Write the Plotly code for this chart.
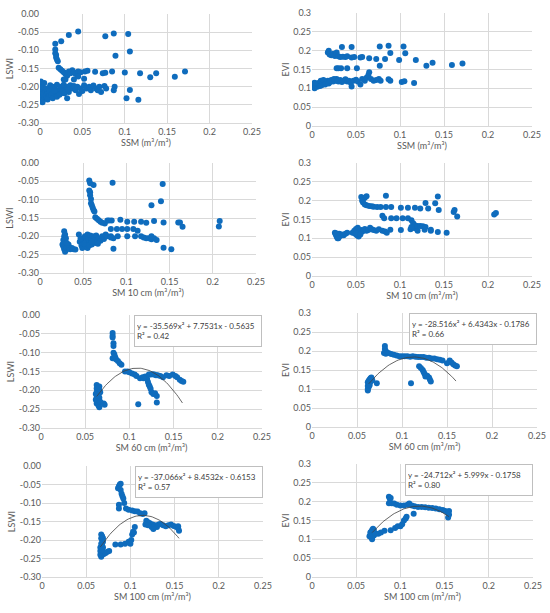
import numpy as np
import plotly.graph_objects as go

# ---- data (x, y) ----
ssm_lswi = [(0.001,-0.186),(0.001,-0.195),(0.002,-0.205),(0.001,-0.215),(0.002,-0.222),(0.001,-0.23),(0.002,-0.238),
            (0.003,-0.243),(0.004,-0.235),(0.005,-0.228),(0.004,-0.218),(0.006,-0.21),(0.007,-0.224),(0.008,-0.232),
            (0.009,-0.215),(0.01,-0.205),(0.011,-0.225),(0.012,-0.196),(0.013,-0.212),(0.014,-0.228),(0.015,-0.2),
            (0.016,-0.218),(0.018,-0.207),(0.019,-0.222),(0.02,-0.195),(0.022,-0.212),(0.024,-0.2),(0.025,-0.218),
            (0.027,-0.205),(0.028,-0.195),(0.03,-0.21),(0.032,-0.2),(0.034,-0.215),(0.036,-0.196),(0.038,-0.205),
            (0.04,-0.198),(0.042,-0.21),(0.044,-0.2),(0.046,-0.22),(0.048,-0.205),(0.05,-0.212),(0.052,-0.196),
            (0.055,-0.205),(0.058,-0.2),(0.06,-0.21),(0.063,-0.197),(0.066,-0.205),(0.068,-0.21),(0.07,-0.2),
            (0.072,-0.215),(0.076,-0.198),(0.078,-0.205),(0.003,-0.2),(0.005,-0.19),(0.007,-0.205),(0.009,-0.235),
            (0.011,-0.212),(0.013,-0.222),(0.015,-0.232),(0.017,-0.212),(0.02,-0.228),(0.023,-0.222),(0.026,-0.212),
            (0.029,-0.218),(0.033,-0.208),
            (0.018,-0.082),(0.018,-0.098),(0.018,-0.108),(0.019,-0.113),(0.019,-0.12),(0.02,-0.125),(0.021,-0.13),
            (0.022,-0.148),(0.024,-0.152),(0.026,-0.156),(0.028,-0.16),(0.03,-0.165),(0.032,-0.17),(0.034,-0.158),
            (0.036,-0.163),(0.038,-0.155),(0.04,-0.16),(0.042,-0.165),(0.045,-0.158),(0.048,-0.16),(0.053,-0.158),
            (0.056,-0.156),(0.065,-0.159),(0.074,-0.163),(0.077,-0.162),(0.085,-0.158),(0.028,-0.18),(0.03,-0.18),
            (0.04,-0.18),(0.052,-0.178),(0.045,-0.172),
            (0.025,-0.075),(0.034,-0.058),(0.045,-0.048),(0.077,-0.061),(0.087,-0.054),(0.104,-0.055),(0.106,-0.103),
            (0.089,-0.115),(0.1,-0.161),(0.118,-0.163),(0.13,-0.174),(0.137,-0.163),(0.159,-0.173),(0.171,-0.158),
            (0.102,-0.232),(0.116,-0.236),(0.106,-0.209),(0.032,-0.232),(0.088,-0.2),(0.087,-0.21)]

ssm_evi = [(0.001,0.112),(0.002,0.105),(0.003,0.1),(0.004,0.108),(0.005,0.112),(0.006,0.104),(0.007,0.11),(0.008,0.115),
           (0.009,0.106),(0.01,0.12),(0.012,0.112),(0.014,0.118),(0.016,0.115),(0.018,0.12),(0.02,0.116),(0.022,0.122),
           (0.024,0.118),(0.026,0.12),(0.028,0.125),(0.03,0.118),(0.032,0.122),(0.034,0.117),(0.036,0.12),(0.038,0.124),
           (0.04,0.118),(0.042,0.12),(0.044,0.115),(0.045,0.105),(0.047,0.12),(0.05,0.123),(0.052,0.118),(0.055,0.11),
           (0.057,0.125),(0.06,0.12),(0.062,0.128),(0.064,0.135),(0.065,0.143),(0.067,0.125),(0.07,0.12),(0.073,0.122),
           (0.076,0.125),(0.078,0.12),(0.087,0.124),(0.089,0.12),(0.102,0.117),(0.105,0.119),(0.116,0.114),(0.003,0.115),
           (0.011,0.108),(0.013,0.122),(0.015,0.11),(0.019,0.113),(0.021,0.12),(0.025,0.125),(0.029,0.12),
           (0.018,0.195),(0.019,0.2),(0.02,0.19),(0.022,0.188),(0.024,0.192),(0.026,0.186),(0.028,0.195),(0.03,0.185),
           (0.032,0.183),(0.035,0.184),(0.038,0.183),(0.04,0.185),(0.045,0.182),(0.048,0.183),(0.055,0.182),(0.057,0.183),
           (0.065,0.18),(0.073,0.178),(0.077,0.16),(0.083,0.178),(0.089,0.194),(0.099,0.175),(0.106,0.193),(0.118,0.175),
           (0.13,0.16),(0.137,0.168),(0.159,0.162),(0.171,0.166),
           (0.034,0.21),(0.045,0.21),(0.077,0.211),(0.087,0.213),(0.104,0.211),
           (0.028,0.153),(0.03,0.153),(0.033,0.153),(0.04,0.153),(0.051,0.153)]

sm10_lswi = [(0.028,-0.186),(0.028,-0.2),(0.027,-0.21),(0.026,-0.222),(0.027,-0.228),(0.028,-0.235),(0.029,-0.242),
             (0.03,-0.238),(0.029,-0.215),(0.03,-0.225),(0.031,-0.232),(0.032,-0.228),(0.033,-0.222),(0.034,-0.23),
             (0.035,-0.235),(0.037,-0.232),(0.039,-0.235),(0.041,-0.236),(0.029,-0.195),(0.03,-0.205),(0.031,-0.218),
             (0.045,-0.195),(0.046,-0.215),(0.048,-0.225),(0.049,-0.232),(0.05,-0.21),(0.051,-0.22),(0.052,-0.2),
             (0.053,-0.215),(0.054,-0.228),(0.055,-0.195),(0.056,-0.205),(0.057,-0.218),(0.058,-0.198),(0.059,-0.21),
             (0.06,-0.222),(0.061,-0.2),(0.062,-0.213),(0.063,-0.205),(0.064,-0.218),(0.065,-0.198),(0.066,-0.21),
             (0.068,-0.205),(0.07,-0.212),(0.072,-0.2),(0.074,-0.207),(0.076,-0.195),(0.078,-0.2),(0.082,-0.2),
             (0.085,-0.205),(0.053,-0.225),(0.055,-0.232),(0.057,-0.225),(0.06,-0.215),(0.047,-0.205),(0.067,-0.22),
             (0.057,-0.048),(0.058,-0.055),(0.057,-0.075),(0.058,-0.08),(0.058,-0.088),(0.059,-0.098),(0.059,-0.11),
             (0.06,-0.115),(0.061,-0.122),(0.062,-0.128),(0.063,-0.132),(0.064,-0.148),(0.066,-0.152),(0.068,-0.156),
             (0.07,-0.16),(0.072,-0.163),(0.075,-0.165),(0.062,-0.06),(0.078,-0.157),(0.08,-0.157),(0.083,-0.157),
             (0.093,-0.155),(0.101,-0.16),(0.109,-0.16),(0.117,-0.16),(0.123,-0.163),(0.132,-0.158),(0.143,-0.162),
             (0.16,-0.162),(0.162,-0.162),(0.165,-0.174),(0.207,-0.173),(0.208,-0.158),(0.084,-0.054),(0.142,-0.057),
             (0.129,-0.115),(0.14,-0.104),
             (0.082,-0.18),(0.089,-0.18),(0.095,-0.18),(0.101,-0.18),(0.108,-0.18),(0.113,-0.185),(0.117,-0.2),
             (0.12,-0.203),(0.123,-0.205),(0.126,-0.205),(0.129,-0.208),(0.132,-0.205),(0.135,-0.21),(0.082,-0.203),
             (0.09,-0.2),(0.101,-0.2),(0.11,-0.2),(0.129,-0.2),(0.085,-0.234),(0.143,-0.231),(0.152,-0.235)]

sm10_evi = [(0.026,0.115),(0.027,0.11),(0.028,0.105),(0.029,0.1),(0.03,0.108),(0.031,0.112),(0.032,0.106),(0.034,0.11),
            (0.036,0.108),(0.038,0.112),(0.04,0.115),(0.028,0.113),(0.03,0.1),
            (0.046,0.115),(0.048,0.12),(0.049,0.112),(0.05,0.125),(0.051,0.108),(0.052,0.118),(0.053,0.105),(0.054,0.12),
            (0.055,0.115),(0.056,0.122),(0.057,0.118),(0.058,0.12),(0.06,0.125),(0.062,0.12),(0.064,0.122),(0.066,0.128),
            (0.068,0.124),(0.07,0.122),(0.073,0.12),(0.076,0.124),(0.08,0.12),(0.083,0.118),(0.085,0.115),(0.089,0.123),
            (0.101,0.122),(0.112,0.124),(0.117,0.127),(0.12,0.12),(0.128,0.123),(0.135,0.12),(0.135,0.123),(0.143,0.117),
            (0.153,0.115),(0.05,0.113),(0.052,0.128),(0.055,0.11),
            (0.056,0.21),(0.058,0.205),(0.06,0.208),(0.062,0.212),(0.057,0.2),(0.058,0.195),(0.06,0.19),(0.062,0.188),
            (0.065,0.186),(0.068,0.185),(0.07,0.184),(0.074,0.183),(0.078,0.183),(0.084,0.183),(0.09,0.183),(0.101,0.181),
            (0.109,0.181),(0.117,0.181),(0.123,0.179),(0.132,0.179),(0.129,0.194),(0.14,0.193),(0.143,0.211),(0.144,0.175),
            (0.161,0.17),(0.162,0.175),(0.165,0.158),(0.207,0.163),(0.209,0.167),(0.084,0.213),
            (0.08,0.16),(0.082,0.153),(0.09,0.153),(0.096,0.153),(0.103,0.153),(0.109,0.153),(0.113,0.148),(0.115,0.14),
            (0.117,0.135),(0.12,0.133),(0.123,0.133),(0.126,0.132),(0.129,0.13),(0.113,0.13)]

sm60_lswi = [(0.063,-0.186),(0.064,-0.19),(0.063,-0.195),(0.064,-0.2),(0.063,-0.205),(0.065,-0.21),(0.064,-0.215),
             (0.063,-0.22),(0.065,-0.225),(0.064,-0.23),(0.063,-0.235),(0.065,-0.24),(0.066,-0.245),(0.066,-0.2),
             (0.066,-0.19),(0.066,-0.22),(0.065,-0.195),(0.062,-0.21),(0.062,-0.225),(0.067,-0.23),(0.067,-0.205),
             (0.065,-0.215),(0.071,-0.235),(0.072,-0.238),
             (0.081,-0.048),(0.081,-0.055),(0.081,-0.06),(0.082,-0.075),(0.082,-0.082),(0.082,-0.1),(0.083,-0.105),
             (0.081,-0.115),(0.084,-0.112),(0.085,-0.118),(0.087,-0.122),(0.089,-0.128),(0.091,-0.132),(0.095,-0.15),
             (0.098,-0.15),(0.1,-0.152),(0.103,-0.155),(0.106,-0.158),(0.108,-0.162),(0.112,-0.168),(0.115,-0.165),
             (0.118,-0.163),(0.12,-0.17),(0.122,-0.158),(0.124,-0.158),(0.126,-0.157),(0.128,-0.158),(0.13,-0.16),
             (0.132,-0.16),(0.135,-0.162),(0.138,-0.165),(0.142,-0.16),(0.145,-0.162),(0.149,-0.158),(0.152,-0.162),
             (0.154,-0.165),(0.157,-0.172),(0.159,-0.175),(0.161,-0.177),
             (0.121,-0.178),(0.122,-0.185),(0.123,-0.19),(0.124,-0.196),(0.125,-0.205),(0.127,-0.21),(0.129,-0.208),
             (0.131,-0.215),(0.131,-0.232),(0.11,-0.237),(0.116,-0.168)]

sm60_evi = [(0.062,0.1),(0.062,0.108),(0.063,0.112),(0.062,0.118),(0.063,0.122),(0.064,0.125),(0.065,0.128),(0.066,0.13),
            (0.064,0.115),(0.065,0.12),(0.066,0.125),(0.067,0.123),(0.063,0.105),(0.062,0.096),(0.064,0.11),(0.072,0.115),
            (0.081,0.213),(0.081,0.205),(0.082,0.2),(0.08,0.195),(0.082,0.193),(0.085,0.195),(0.088,0.192),(0.091,0.19),
            (0.094,0.188),(0.097,0.186),(0.1,0.186),(0.103,0.186),(0.106,0.186),(0.109,0.185),(0.112,0.186),(0.115,0.185),
            (0.118,0.184),(0.121,0.184),(0.124,0.184),(0.127,0.182),(0.13,0.182),(0.133,0.18),(0.136,0.18),(0.139,0.178),
            (0.142,0.177),(0.145,0.175),(0.15,0.168),(0.153,0.175),(0.155,0.17),(0.157,0.165),(0.159,0.162),(0.161,0.16),
            (0.119,0.16),(0.121,0.155),(0.123,0.15),(0.124,0.145),(0.125,0.14),(0.126,0.133),(0.128,0.135),(0.13,0.13),
            (0.131,0.125),(0.132,0.12),(0.11,0.115)]

sm100_lswi = [(0.067,-0.185),(0.068,-0.19),(0.067,-0.195),(0.068,-0.2),(0.069,-0.205),(0.067,-0.21),(0.068,-0.215),
              (0.066,-0.22),(0.067,-0.225),(0.066,-0.23),(0.067,-0.235),(0.068,-0.24),(0.067,-0.245),(0.069,-0.195),
              (0.069,-0.22),(0.069,-0.235),(0.066,-0.24),(0.07,-0.238),(0.072,-0.235),(0.074,-0.232),(0.076,-0.23),
              (0.068,-0.228),
              (0.086,-0.06),(0.087,-0.055),(0.088,-0.05),(0.089,-0.048),(0.089,-0.065),(0.09,-0.075),(0.091,-0.082),
              (0.092,-0.088),(0.093,-0.1),(0.087,-0.105),(0.087,-0.115),(0.095,-0.115),(0.098,-0.118),(0.102,-0.12),
              (0.105,-0.122),(0.108,-0.123),(0.111,-0.128),(0.114,-0.13),(0.116,-0.128),(0.118,-0.148),(0.12,-0.152),
              (0.122,-0.155),(0.125,-0.158),(0.128,-0.16),(0.13,-0.165),(0.132,-0.158),(0.134,-0.157),(0.137,-0.16),
              (0.14,-0.163),(0.143,-0.16),(0.146,-0.158),(0.149,-0.162),(0.152,-0.165),(0.154,-0.168),(0.155,-0.175),
              (0.154,-0.163),
              (0.083,-0.212),(0.089,-0.212),(0.094,-0.21),(0.098,-0.205),(0.1,-0.21),(0.101,-0.2),(0.102,-0.185),
              (0.104,-0.18),(0.105,-0.165),(0.103,-0.178),(0.117,-0.158),(0.124,-0.165),(0.126,-0.17),(0.12,-0.16)]

sm100_evi = [(0.066,0.11),(0.067,0.105),(0.068,0.1),(0.068,0.115),(0.067,0.12),(0.068,0.125),(0.069,0.128),(0.07,0.125),
             (0.069,0.118),(0.066,0.118),(0.07,0.11),(0.072,0.115),(0.075,0.115),(0.078,0.118),(0.065,0.108),
             (0.087,0.213),(0.088,0.208),(0.089,0.21),(0.087,0.196),(0.09,0.196),(0.093,0.195),(0.096,0.192),(0.1,0.19),
             (0.104,0.19),(0.108,0.192),(0.11,0.195),(0.113,0.19),(0.116,0.188),(0.12,0.186),(0.124,0.186),(0.128,0.185),
             (0.132,0.184),(0.136,0.183),(0.14,0.182),(0.144,0.18),(0.148,0.178),(0.151,0.175),(0.154,0.17),(0.155,0.165),
             (0.154,0.158),(0.155,0.175),
             (0.082,0.123),(0.089,0.124),(0.094,0.13),(0.097,0.135),(0.1,0.135),(0.102,0.14),(0.104,0.15),(0.106,0.155),
             (0.107,0.16),(0.115,0.168)]

# trendline coefficients (a, b, c) as printed on the chart
trend_sm60_lswi = [-35.569, 7.7531, -0.5635]
trend_sm60_evi = [-28.516, 6.4343, -0.1786]
trend_sm100_lswi = [-37.066, 8.4532, -0.6153]
trend_sm100_evi = [-24.712, 5.999, -0.1758]
trend_labels = ["y = -35.569x² + 7.7531x - 0.5635<br>R² = 0.42",
                "y = -28.516x² + 6.4343x - 0.1786<br>R² = 0.66",
                "y = -37.066x² + 8.4532x - 0.6153<br>R² = 0.57",
                "y = -24.712x² + 5.999x - 0.1758<br>R² = 0.80"]

x_ticks = [0, 0.05, 0.1, 0.15, 0.2, 0.25]
x_ticktext = ["0", "0.05", "0.1", "0.15", "0.2", "0.25"]
lswi_ticks = [0, -0.05, -0.1, -0.15, -0.2, -0.25, -0.3]
lswi_ticktext = ["0.00", "-0.05", "-0.10", "-0.15", "-0.20", "-0.25", "-0.30"]
evi_ticks = [0, 0.05, 0.1, 0.15, 0.2, 0.25, 0.3]
evi_ticktext = ["0", "0.05", "0.1", "0.15", "0.2", "0.25", "0.3"]

x_titles = ["SSM (m³/m³)", "SM 10 cm (m³/m³)", "SM 60 cm (m³/m³)", "SM 100 cm (m³/m³)"]

panels = [
    (ssm_lswi, "LSWI", 0, None, None),
    (ssm_evi, "EVI", 0, None, None),
    (sm10_lswi, "LSWI", 1, None, None),
    (sm10_evi, "EVI", 1, None, None),
    (sm60_lswi, "LSWI", 2, trend_sm60_lswi, (0.063, 0.16)),
    (sm60_evi, "EVI", 2, trend_sm60_evi, (0.063, 0.16)),
    (sm100_lswi, "LSWI", 3, trend_sm100_lswi, (0.066, 0.155)),
    (sm100_evi, "EVI", 3, trend_sm100_evi, (0.068, 0.155)),
]

W, H = 550, 613
# pixel boxes of each plot area: left, right, top, bottom
boxes = [(40, 252, 14, 123), (312, 532, 13, 126),
         (40, 256, 163, 273), (312, 532, 163, 276),
         (41, 262, 315, 428), (312, 537, 313, 427),
         (42, 263, 466, 577), (312, 533, 464, 577)]

blue = "#0F6CBD"
grid = "#D9D9D9"
txt = "#595959"
font = "Lato"

fig = go.Figure()
k = 0
for i, (pts, yname, row, coef, span) in enumerate(panels):
    n = i + 1
    xa = "x" if n == 1 else "x%d" % n
    ya = "y" if n == 1 else "y%d" % n
    xs = [p[0] for p in pts]
    ys = [p[1] for p in pts]
    fig.add_trace(go.Scatter(x=xs, y=ys, mode="markers", xaxis=xa, yaxis=ya,
                             marker=dict(color=blue, size=6), showlegend=False))
    if coef is not None:
        tx = np.linspace(span[0], span[1], 60)
        fig.add_trace(go.Scatter(x=tx, y=np.polyval(coef, tx), mode="lines", xaxis=xa, yaxis=ya,
                                 line=dict(color="#404040", width=0.8), showlegend=False))
        fig.add_annotation(text=trend_labels[k], xref=xa + " domain", yref=ya + " domain", x=1, y=1,
                           xanchor="right", yanchor="top", align="left", showarrow=False,
                           bgcolor="white", bordercolor="#BFBFBF", borderwidth=1, borderpad=2,
                           font=dict(family=font, size=8, color="#404040"), width=122, height=26)
        k += 1
    l, r, t, b = boxes[i]
    sfx = "" if n == 1 else str(n)
    if yname == "LSWI":
        yt, ytt, yr = lswi_ticks, lswi_ticktext, [-0.3, 0]
    else:
        yt, ytt, yr = evi_ticks, evi_ticktext, [0, 0.3]
    fig.layout["xaxis" + sfx] = dict(domain=[l / W, r / W], anchor=ya, range=[0, 0.25], automargin=False,
                                     tickvals=x_ticks, ticktext=x_ticktext, showgrid=True, gridcolor=grid,
                                     gridwidth=1, zeroline=False, showline=True, linecolor=grid,
                                     ticks="", tickfont=dict(family=font, size=9, color=txt),
                                     title=dict(text=x_titles[row], standoff=2,
                                                font=dict(family=font, size=9, color=txt)))
    fig.layout["yaxis" + sfx] = dict(domain=[1 - b / H, 1 - t / H], anchor=xa, range=yr, automargin=False,
                                     tickvals=yt, ticktext=ytt, showgrid=True, gridcolor=grid,
                                     gridwidth=1, zeroline=False, showline=False, ticks="",
                                     tickfont=dict(family=font, size=9, color=txt),
                                     title=dict(text=yname, standoff=2,
                                                font=dict(family=font, size=9, color=txt)))

fig.update_layout(width=W, height=H, margin=dict(l=0, r=0, t=0, b=0, autoexpand=False),
                  paper_bgcolor="white", plot_bgcolor="white", showlegend=False)

# drop the page's default body margin so the figure sits at the window's corner
fig.write_html("out.html", config={"displayModeBar": False},
               post_script="document.body.style.margin='0';")
